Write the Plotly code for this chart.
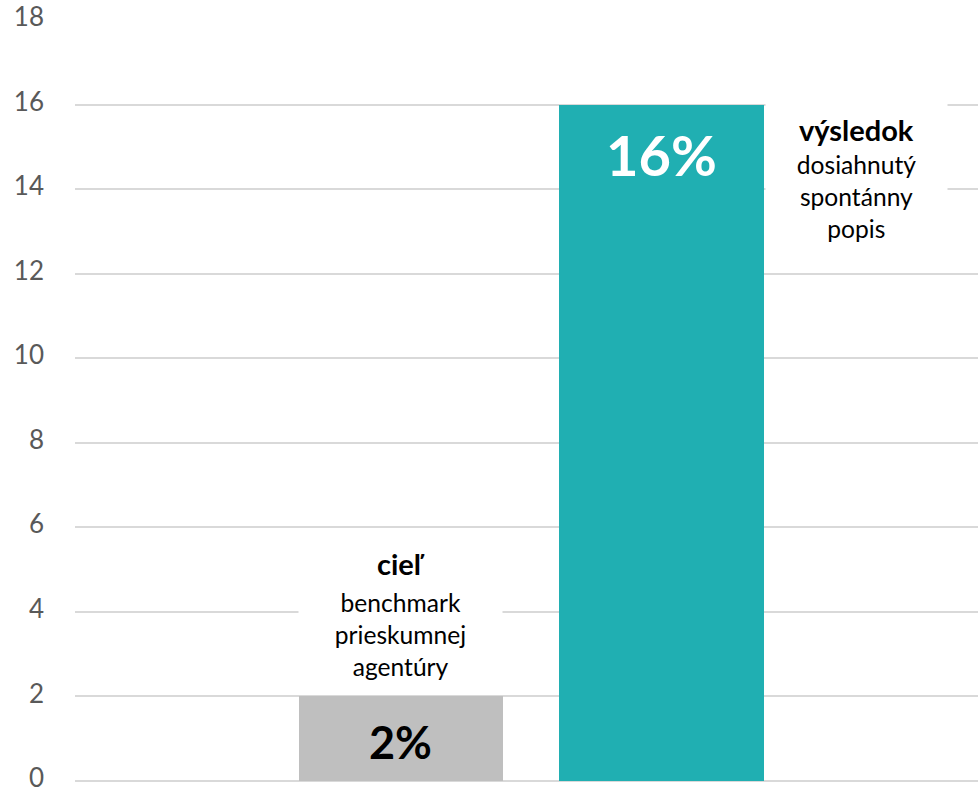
import plotly.graph_objects as go

# Chart data
categories = [0, 1]
values = [2, 16]
bar_colors = ["#BFBFBF", "#20AFB2"]
value_label_colors = ["#000000", "#FFFFFF"]
value_label_sizes = [45, 56]
value_label_y = [0.92, 14.82]

y_ticks = list(range(0, 19, 2))

# Text blocks beside / above the bars
goal_title = "cieľ"
goal_lines = ["benchmark", "prieskumnej", "agentúry"]
result_title = "výsledok"
result_lines = ["dosiahnutý", "spontánny", "popis"]

FONT = "Lato"

fig = go.Figure()
fig.add_trace(go.Bar(
    x=categories,
    y=values,
    width=0.785,
    marker=dict(color=bar_colors, line=dict(width=0)),
    hoverinfo="skip",
))

# Value labels inside the bars, built from the same values
for x, v, c, s, yy in zip(categories, values, value_label_colors, value_label_sizes, value_label_y):
    fig.add_annotation(
        x=x, y=yy, xref="x", yref="y",
        text=f"<b>{v}%</b>",
        showarrow=False,
        font=dict(family=FONT, size=s, color=c),
        xanchor="center", yanchor="middle",
    )


def text_block(x, title, lines, title_y, body_bottom, box_h, box_w):
    # body lines sit at the bottom of a white box that also hides the
    # gridlines behind the heading
    fig.add_annotation(
        x=x, y=body_bottom, xref="x", yref="y",
        text="<br>".join(lines),
        showarrow=False,
        font=dict(family=FONT, size=24.6, color="#000000"),
        bgcolor="#FFFFFF", borderpad=0,
        width=box_w, height=box_h, align="center", valign="bottom",
        xanchor="center", yanchor="bottom",
    )
    # bold heading
    fig.add_annotation(
        x=x, y=title_y, xref="x", yref="y",
        text=f"<b>{title}</b>",
        showarrow=False,
        font=dict(family=FONT, size=29, color="#000000"),
        xanchor="center", yanchor="middle",
    )


text_block(0, goal_title, goal_lines, 5.15, 2.34, 140, 203)
text_block(1.747, result_title, result_lines, 15.42, 12.70, 146, 181)

fig.update_layout(
    width=978, height=791,
    margin=dict(l=75, r=0, t=20, b=10),
    paper_bgcolor="#FFFFFF",
    plot_bgcolor="#FFFFFF",
    showlegend=False,
    bargap=0,
    font=dict(family=FONT),
)
fig.update_xaxes(
    range=[-1.2514, 2.215],
    showticklabels=False,
    showgrid=False,
    zeroline=False,
    showline=False,
    automargin=False,
    fixedrange=True,
)
fig.update_yaxes(
    range=[0, 18],
    tickvals=y_ticks,
    ticktext=[str(t) for t in y_ticks],
    tickfont=dict(family=FONT, size=26, color="#595959"),
    ticklabeloverflow="allow",
    ticklabelshift=-3,
    automargin=False,
    showgrid=True,
    gridcolor="#D9D9D9",
    gridwidth=1.5,
    zeroline=True,
    zerolinecolor="#D9D9D9",
    zerolinewidth=1.5,
    showline=False,
    ticks="",
    ticklabelstandoff=30,
    fixedrange=True,
)

fig.write_html("out.html", config={"displayModeBar": False})
